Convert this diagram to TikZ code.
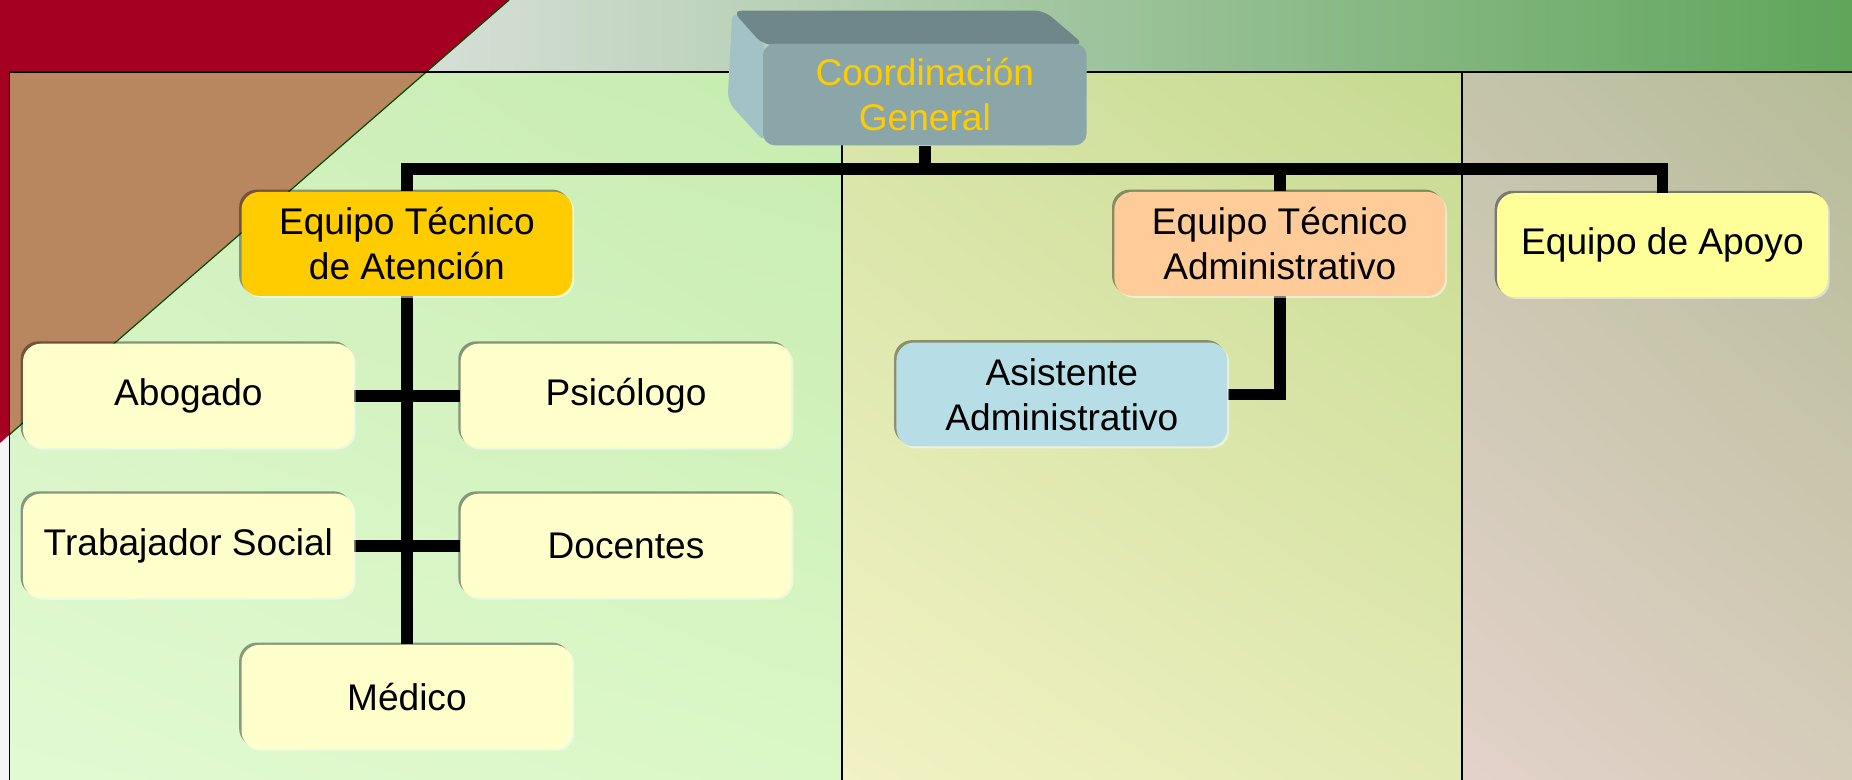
\documentclass[tikz,border=0pt]{standalone}
\usepackage{fontspec}
\setmainfont{Liberation Sans}
\usetikzlibrary{shadows,shadings}
\pgfdeclarelayer{bg}
\pgfdeclarelayer{conns}
\pgfsetlayers{bg,conns,main}
\definecolor{redbg}{HTML}{A50021}
\definecolor{brownbg}{HTML}{B8865F}
\definecolor{topL}{HTML}{DCE2DC}
\definecolor{topR}{HTML}{5FA55A}
\definecolor{etaC}{HTML}{FFCC00}
\definecolor{etadmC}{HTML}{FFCC99}
\definecolor{apoyoC}{HTML}{FFFF99}
\definecolor{lightC}{HTML}{FFFFCC}
\definecolor{asistC}{HTML}{B7DEE6}
\definecolor{cfront}{HTML}{8AA6A9}
\definecolor{ctop}{HTML}{6F868A}
\definecolor{cside}{HTML}{A2C2C8}
\definecolor{ctext}{HTML}{FFCC00}
\definecolor{aUL}{RGB}{210,240,192}
\definecolor{aUR}{RGB}{198,236,174}
\definecolor{aLL}{RGB}{226,250,210}
\definecolor{aLR}{RGB}{218,247,198}
\definecolor{bUL}{RGB}{214,228,166}
\definecolor{bUR}{RGB}{198,218,144}
\definecolor{bLL}{RGB}{242,242,196}
\definecolor{bLR}{RGB}{226,234,180}
\definecolor{cUL}{RGB}{196,196,170}
\definecolor{cUR}{RGB}{182,188,152}
\definecolor{cLL}{RGB}{227,210,202}
\definecolor{cLR}{RGB}{214,204,186}
\tikzset{
  orgbox/.style={rounded corners=7.5pt, minimum width=140pt, minimum height=44pt,
    inner sep=0pt, align=center, text=black,
    font=\fontsize{15.7pt}{19pt}\selectfont,
    general shadow={shadow xshift=0.8pt, shadow yshift=-0.8pt, fill=white, opacity=.5},
    general shadow={shadow xshift=-1pt, shadow yshift=1pt, fill=black, opacity=.38}},
  conn/.style={line width=5pt, line join=miter, line cap=butt, black},
  panelline/.style={line width=0.7pt, black}
}
\begin{document}
\begin{tikzpicture}[x=0.5pt,y=-0.5pt]
\useasboundingbox (0,0) rectangle (1568,660);
\begin{pgfonlayer}{bg}
% background top strip
\shade[left color=topL, right color=topR] (300,0) rectangle (1568,62);
\fill[black!4] (0,62) rectangle (8,660);
\fill[redbg] (0,0) -- (431,0) -- (0,375) -- cycle;
% columns
\shade[upper left=aUL, upper right=aUR, lower left=aLL, lower right=aLR] (8,62) rectangle (713,660);
\fill[brownbg] (8,62) -- (360,62) -- (8,368) -- cycle;
\draw[line width=0.5pt, black!70!green] (431,0) -- (8,368);
\shade[upper left=bUL, upper right=bUR, lower left=bLL, lower right=bLR] (713,62) rectangle (1238,660);
\shade[upper left=cUL, upper right=cUR, lower left=cLL, lower right=cLR] (1238,62) rectangle (1568,660);
\draw[panelline] (8,660) -- (8,61) -- (1568,61);
\draw[panelline] (713,61) -- (713,660);
\draw[panelline] (1238,61) -- (1238,660);
\end{pgfonlayer}

% Coordination 3D box
\fill[cside, rounded corners=4pt] (620,9) -- (648,37) -- (648,121) -- (616,86) -- cycle;
\fill[ctop, rounded corners=4pt] (620,9) -- (884,9) -- (918,38) -- (646,38) -- cycle;
\node[rounded corners=5pt, fill=cfront, minimum width=137pt, minimum height=43pt, inner sep=0pt,
      align=center, text=ctext, font=\fontsize{15.7pt}{19pt}\selectfont] (coord) at (783,80)
      {Coordinación\\General};

% boxes
\node[orgbox, fill=etaC] (eta) at (344.5,206.5) {Equipo Técnico\\de Atención};
\node[orgbox, fill=etadmC] (etadm) at (1083.5,206.5) {Equipo Técnico\\Administrativo};
\node[orgbox, fill=apoyoC] (apoyo) at (1407.5,207.5) {Equipo de Apoyo};
\node[orgbox, fill=lightC] (abogado) at (159.5,335) {Abogado};
\node[orgbox, fill=lightC] (psicologo) at (530,335) {Psicólogo};
\node[orgbox, fill=lightC] (trabajador) at (159.5,462) {Trabajador Social};
\node[orgbox, fill=lightC] (docentes) at (530,462) {Docentes};
\node[orgbox, fill=lightC] (medico) at (344.5,590) {Médico};
\node[orgbox, fill=asistC] (asistente) at (899,334) {Asistente\\Administrativo};

% connectors (on a layer under the boxes)
\coordinate (bus) at (783,143);
\begin{pgfonlayer}{conns}
\draw[conn] (coord.south) -- (bus);
\draw[conn] (eta.north) -- (eta.north |- bus) -| (apoyo.north);
\draw[conn] (etadm.north) -- (etadm.north |- bus);
\draw[conn] (eta.south) -- (medico.north);
\draw[conn] (abogado.east) -- (psicologo.west);
\draw[conn] (trabajador.east) -- (docentes.west);
\draw[conn] (etadm.south) |- (asistente.east);
\end{pgfonlayer}
\end{tikzpicture}
\end{document}
